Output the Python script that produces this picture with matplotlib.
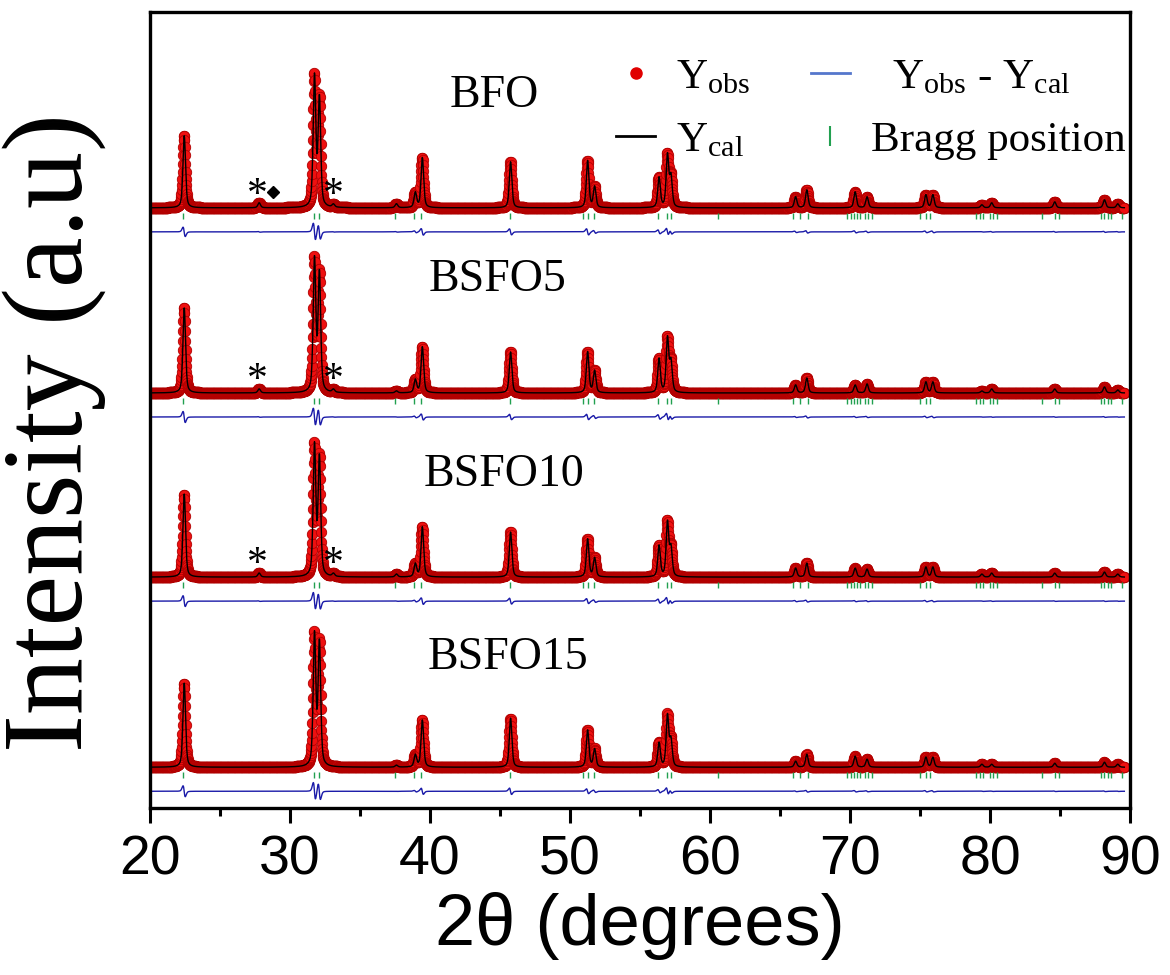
import numpy as np
import matplotlib
matplotlib.use('Agg')
import matplotlib.pyplot as plt
from matplotlib.lines import Line2D
from matplotlib.ticker import MultipleLocator

plt.rcParams['mathtext.fontset'] = 'custom'
plt.rcParams['mathtext.rm'] = 'Liberation Serif'
plt.rcParams['mathtext.it'] = 'Liberation Serif:italic'

# peak positions (2theta)
peak_2theta = [22.45, 27.8, 31.75, 32.1, 33.1, 37.6, 38.95, 39.45, 45.75, 51.25, 51.75,
               56.35, 56.95, 57.2, 66.1, 66.9, 70.35, 71.2, 75.4, 75.9, 79.4, 80.1,
               84.6, 88.15, 89.1]

# peak heights for each sample (arbitrary units)
h_bfo = [72, 5, 130, 108, 3, 4, 15, 50, 46, 47, 21, 30, 52, 30, 11, 18, 16, 11, 13, 13, 3, 5, 6, 8, 4]
h_bsfo5 = [85, 4, 132, 118, 3, 2, 13, 46, 41, 41, 22, 34, 54, 30, 8, 15, 8, 9, 11, 11, 2, 4, 4, 6, 3]
h_bsfo10 = [83, 4, 130, 118, 3, 3, 13, 50, 45, 38, 19, 31, 54, 28, 9, 14, 9, 8, 10, 10, 3, 4, 4, 5, 3]
h_bsfo15 = [84, 0, 131, 123, 0, 2, 12, 47, 49, 37, 18, 24, 51, 26, 6, 13, 11, 8, 10, 10, 3, 3, 4, 5, 3]

samples = ['BFO', 'BSFO5', 'BSFO10', 'BSFO15']
heights = [h_bfo, h_bsfo5, h_bsfo10, h_bsfo15]
offsets = [600, 415, 231, 41]
label_pos = [(44.6, 712), (44.8, 528), (45.3, 333), (45.6, 150)]

# reflection markers
bragg = [22.4, 31.7, 32.1, 37.5, 38.9, 39.4, 45.7, 50.9, 51.3, 51.7, 56.3, 56.9, 57.2,
         60.6, 65.9, 66.4, 67.0, 69.8, 70.1, 70.3, 70.5, 70.7, 71.1, 71.3, 71.6,
         75.0, 75.4, 75.7, 79.0, 79.3, 79.5, 80.0, 80.2, 80.5, 83.7, 84.6, 84.9,
         87.9, 88.1, 88.4, 88.6, 89.4]

# impurity marks
star_x = [27.7, 33.1]

tt = np.arange(20.0, 89.6, 0.02)


def profile(x, pos, h, w=0.22, shift=0.0):
    y = np.zeros_like(x)
    for p, a in zip(pos, h):
        d = (x - p - shift) / (w / 2)
        y += a * (0.5 / (1 + d ** 2) + 0.5 * np.exp(-np.log(2) * d ** 2))
    return y


fig = plt.figure(figsize=(11.7, 9.75), dpi=100)
ax = fig.add_axes([0.128, 0.171, 0.838, 0.817])

for name, h, off, lp in zip(samples, heights, offsets, label_pos):
    yobs = profile(tt, peak_2theta, h)
    ycal = profile(tt, peak_2theta, h, shift=0.012)
    ax.plot(tt, yobs + off, 'o', ms=7.5, color='#ee1010', mec='#b00000', mew=0.6, zorder=2)
    ax.plot(tt, ycal + off, '-', color='black', lw=1.0, zorder=3)
    ax.plot(tt, (yobs - ycal) * 0.9 + off - 24, '-', color='#1a1aa8', lw=1.0, zorder=2)
    ax.plot(bragg, np.full(len(bragg), off - 8), '|', ms=5, mew=1.0, color='#22a050', zorder=2)
    ax.text(lp[0], lp[1], name, family='Liberation Serif', fontsize=33, ha='center', va='center')

# impurity markers
for off in offsets[:3]:
    for sx in star_x:
        ax.text(sx, off + 12, '*', family='Liberation Serif', fontsize=30, ha='center', va='center')
ax.plot([28.8], [offsets[0] + 16], 'D', color='black', ms=6)

ax.set_xlim(20, 90)
ax.set_ylim(0, 796)
ax.set_yticks([])
ax.xaxis.set_major_locator(MultipleLocator(10))
ax.xaxis.set_minor_locator(MultipleLocator(5))
ax.tick_params(axis='x', which='major', direction='out', length=11, width=2.2, pad=8)
ax.tick_params(axis='x', which='minor', direction='out', length=6, width=2.2)
for s in ax.spines.values():
    s.set_linewidth(2.4)
for lab in ax.get_xticklabels():
    lab.set_family(['Liberation Sans Narrow', 'Liberation Sans'])
    lab.set_fontsize(40)

ax.set_xlabel('2θ (degrees)', family=['Liberation Sans Narrow', 'Liberation Sans'],
              fontsize=52, labelpad=4)
ax.set_ylabel('Intensity (a.u)', family='Liberation Serif', fontsize=82)
ax.yaxis.set_label_coords(-0.045, 0.472)

handles = [Line2D([], [], marker='o', ls='', color='#e00000', ms=8),
           Line2D([], [], color='black', lw=2),
           Line2D([], [], color='#5577cc', lw=2),
           Line2D([], [], marker='|', ls='', color='#22a050', ms=14, mew=1.5)]
labels = [r'Y$_{\rm obs}$', r'Y$_{\rm cal}$', r'  Y$_{\rm obs}$ - Y$_{\rm cal}$', 'Bragg position']
ax.legend(handles, labels, ncol=2, loc='upper right', bbox_to_anchor=(1.035, 0.99),
          frameon=False, prop={'family': 'Liberation Serif', 'size': 31},
          handlelength=0.9, handletextpad=0.5, columnspacing=1.4, labelspacing=0.55)

fig.savefig('out.png', dpi=100)
